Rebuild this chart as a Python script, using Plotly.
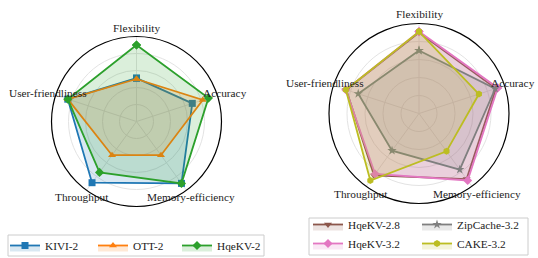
import math
import plotly.graph_objects as go

categories = ["Flexibility", "Accuracy", "Memory-efficiency", "Throughput", "User-friendliness"]

# Left chart series (fraction of outer radius)
kivi2 = [0.51, 0.69, 0.90, 0.89, 0.85]
ott2 = [0.50, 0.82, 0.49, 0.49, 0.85]
hqekv2 = [0.90, 0.89, 0.90, 0.74, 0.85]

# Right chart series
hqekv28 = [0.90, 0.90, 0.90, 0.85, 0.85]
hqekv32 = [0.91, 0.92, 0.92, 0.83, 0.855]
zipcache32 = [0.70, 0.89, 0.77, 0.51, 0.71]
cake32 = [0.91, 0.70, 0.52, 0.92, 0.855]

# (name, values, colour, marker, legend id)
left_series = [
    ("KIVI-2", kivi2, "#1f77b4", "square", "legend"),
    ("OTT-2", ott2, "#ff7f0e", "triangle-up", "legend2"),
    ("HqeKV-2", hqekv2, "#2ca02c", "diamond", "legend3"),
]
right_series = [
    ("HqeKV-2.8", hqekv28, "#8c564b", "triangle-down", "legend4"),
    ("HqeKV-3.2", hqekv32, "#e377c2", "diamond", "legend4"),
    ("ZipCache-3.2", zipcache32, "#7f7f7f", "star", "legend5"),
    ("CAKE-3.2", cake32, "#bcbd22", "hexagon", "legend5"),
]

FONT = "Liberation Serif, Times New Roman, serif"
FS = 11.3
W, H = 538, 258


def rgba(hexc, a):
    h = hexc.lstrip("#")
    r, g, b = int(h[0:2], 16), int(h[2:4], 16), int(h[4:6], 16)
    return f"rgba({r},{g},{b},{a})"


fig = go.Figure()

for sp, series in [("polar", left_series), ("polar2", right_series)]:
    for name, vals, col, sym, lg in series:
        fig.add_trace(go.Scatterpolar(
            r=vals + vals[:1], theta=categories + categories[:1],
            mode="lines+markers", name=name, subplot=sp, legend=lg,
            line=dict(color=col, width=1.8),
            marker=dict(symbol=sym, size=7, color=col),
            fill="toself", fillcolor=rgba(col, 0.17),
        ))


def polar_cfg(cx, cy, R):
    return dict(
        domain=dict(x=[(cx - R) / W, (cx + R) / W], y=[(H - cy - R) / H, (H - cy + R) / H]),
        bgcolor="white",
        radialaxis=dict(range=[0, 1], tickvals=[0.2, 0.4, 0.6, 0.8], showticklabels=False,
                        ticks="", showline=False, gridcolor="#e3e3e3", gridwidth=1),
        angularaxis=dict(direction="clockwise", rotation=90, showticklabels=False, ticks="",
                         showline=True, linecolor="black", linewidth=1.2,
                         gridcolor="#e3e3e3", gridwidth=1),
    )


# axis labels placed at 1.1 x outer radius, centred on each spoke
annotations = []
for cx, cy, R in [(136.5, 121.5, 85), (419, 113.5, 90)]:
    for i, cat in enumerate(categories):
        ang = math.radians(90 - 72 * i)
        px = cx + 1.1 * R * math.cos(ang)
        py = cy - 1.1 * R * math.sin(ang)
        annotations.append(dict(
            x=px / W, y=(H - py) / H, xref="paper", yref="paper", text=cat,
            showarrow=False, xanchor="center", yanchor="middle",
            font=dict(family=FONT, size=FS, color="#222222"),
        ))


def leg(xpx, ycpx):
    return dict(orientation="v", x=xpx / W, xanchor="left", y=(H - ycpx) / H, yanchor="middle",
                bgcolor="rgba(0,0,0,0)", borderwidth=0, tracegroupgap=0,
                font=dict(family=FONT, size=FS, color="#222222"))


shapes = [
    dict(type="rect", xref="paper", yref="paper", x0=8 / W, x1=264 / W,
         y0=(H - 256) / H, y1=(H - 235) / H, line=dict(color="#cccccc", width=1),
         fillcolor="white", layer="below"),
    dict(type="rect", xref="paper", yref="paper", x0=309 / W, x1=528 / W,
         y0=(H - 255) / H, y1=(H - 218) / H, line=dict(color="#cccccc", width=1),
         fillcolor="white", layer="below"),
]

fig.update_layout(
    width=W, height=H,
    margin=dict(l=0, r=0, t=0, b=0, autoexpand=False),
    paper_bgcolor="white",
    font=dict(family=FONT, size=FS, color="#222222"),
    polar=polar_cfg(136.5, 121.5, 85),
    polar2=polar_cfg(419, 113.5, 90),
    annotations=annotations,
    shapes=shapes,
    legend=leg(5, 245.5),
    legend2=leg(93, 245.5),
    legend3=leg(177, 245.5),
    legend4=leg(308, 234),
    legend5=leg(417, 234),
    showlegend=True,
)

fig.write_html("out.html", config={"displayModeBar": False},
               post_script="document.body.style.margin='0';")
